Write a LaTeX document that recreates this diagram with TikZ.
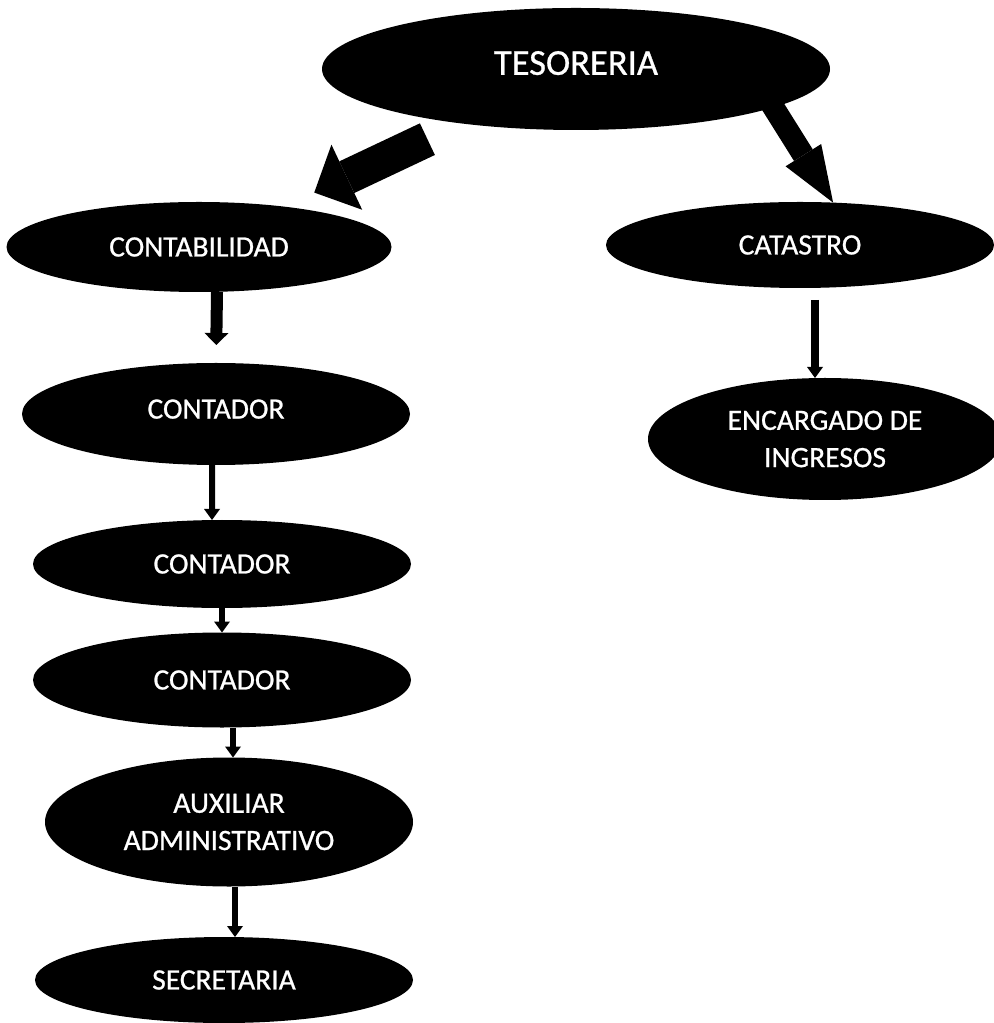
\documentclass[tikz,border=0pt]{standalone}
\usepackage{fontspec}
\setmainfont{Carlito}[FakeBold=0.8]
\usetikzlibrary{shapes.geometric, arrows.meta, positioning}

\begin{document}
\begin{tikzpicture}[node distance={15mm}, main/.style = {ellipse, fill=black, text=white, inner sep=0pt, outer sep=0pt, align=center, font=\fontsize{8.4}{10.6}\selectfont}, flow/.style = {line width=0.06cm, -{Triangle[width=0.16cm, length=0.11cm, line width=0pt]}}, bigarrow/.style = {line width=0.35cm, -{Triangle[width=0.72cm, length=0.36cm, line width=0pt]}}]
\useasboundingbox (0,0) rectangle (9.93,-10.23);

\node[main, minimum width=5.08cm, minimum height=1.22cm, text depth=0.12cm, font=\fontsize{10.4}{12}\selectfont] (1) at (5.76,-0.69) {TESORERIA};
\node[main, minimum width=3.85cm, minimum height=0.90cm] (2) at (1.99,-2.47) {CONTABILIDAD};
\node[main, minimum width=3.88cm, minimum height=0.86cm] (3) at (8.00,-2.45) {CATASTRO};
\node[main, minimum width=3.88cm, minimum height=1.02cm, text depth=0.1cm] (4) [node distance=1.67cm, below of=2, xshift=0.17cm] {CONTADOR};
\node[main, minimum width=3.78cm, minimum height=0.88cm] (5) [node distance=1.50cm, below of=4, xshift=0.06cm] {CONTADOR};
\node[main, minimum width=3.78cm, minimum height=0.95cm] (6) [node distance=1.16cm, below of=5] {CONTADOR};
\node[main, minimum width=3.68cm, minimum height=1.29cm] (7) [node distance=1.42cm, below of=6, xshift=0.07cm] {AUXILIAR\\ADMINISTRATIVO};
\node[main, minimum width=3.78cm, minimum height=0.86cm] (8) [node distance=1.58cm, below of=7, xshift=-0.05cm] {SECRETARIA};
\node[main, minimum width=3.54cm, minimum height=1.22cm] (9) [node distance=1.94cm, below of=3, xshift=0.25cm] {ENCARGADO DE\\INGRESOS};

\draw[bigarrow, shorten <=0.37cm, shorten >=0.33cm] (1) -- (2);
\draw[bigarrow, line width=0.22cm, -{Triangle[width=0.42cm, length=0.56cm, line width=0pt]}, shorten <=-0.15cm] (1.349) -- (3.52);

\draw[flow, line width=0.12cm, -{Triangle[width=0.24cm, length=0.12cm, line width=0pt]}, shorten >=0.18cm] ([xshift=0.18cm]2.south) -- (4.north);
\draw[flow] ([xshift=-0.04cm]4.south) -- ([xshift=-0.10cm]5.north);
\draw[flow] (5) -- (6);
\draw[flow] ([xshift=0.11cm]6.south) -- ([xshift=0.04cm]7.north);
\draw[flow] ([xshift=0.06cm]7.south) -- ([xshift=0.11cm]8.north);
\draw[flow, line width=0.08cm, shorten <=0.12cm] ([xshift=0.15cm]3.south) -- ([xshift=-0.10cm]9.north);

\end{tikzpicture}
\end{document}
